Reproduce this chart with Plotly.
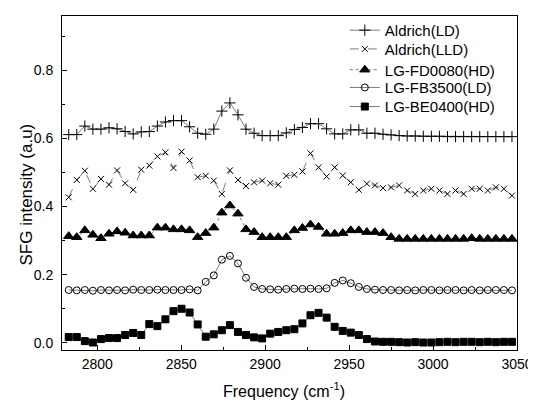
import plotly.graph_objects as go

freq = [2783.0, 2787.8, 2792.6, 2797.4, 2802.2, 2807.0, 2811.8, 2816.6, 2821.4, 2826.2,
        2831.0, 2835.8, 2840.6, 2845.4, 2850.2, 2855.0, 2859.8, 2864.6, 2869.4, 2874.2,
        2879.0, 2883.8, 2888.6, 2893.4, 2898.2, 2903.0, 2907.8, 2912.6, 2917.4, 2922.2,
        2927.0, 2931.8, 2936.6, 2941.4, 2946.2, 2951.0, 2955.8, 2960.6, 2965.4, 2970.2,
        2975.0, 2979.8, 2984.6, 2989.4, 2994.2, 2999.0, 3003.8, 3008.6, 3013.4, 3018.2,
        3023.0, 3027.8, 3032.6, 3037.4, 3042.2, 3047.0]

aldrich_ld = [0.611, 0.611, 0.636, 0.627, 0.627, 0.631, 0.628, 0.620, 0.613, 0.619,
              0.620, 0.636, 0.648, 0.652, 0.652, 0.634, 0.615, 0.612, 0.627, 0.680,
              0.704, 0.669, 0.627, 0.615, 0.608, 0.608, 0.608, 0.616, 0.626, 0.632,
              0.643, 0.643, 0.628, 0.613, 0.613, 0.625, 0.625, 0.615, 0.615, 0.612,
              0.610, 0.608, 0.607, 0.607, 0.606, 0.606, 0.606, 0.605, 0.605, 0.605,
              0.605, 0.605, 0.605, 0.605, 0.605, 0.605]

aldrich_lld = [0.427, 0.478, 0.505, 0.452, 0.481, 0.464, 0.506, 0.468, 0.449, 0.508,
               0.520, 0.547, 0.559, 0.513, 0.561, 0.535, 0.486, 0.490, 0.476, 0.437,
               0.506, 0.478, 0.460, 0.471, 0.476, 0.468, 0.464, 0.490, 0.493, 0.503,
               0.556, 0.515, 0.488, 0.515, 0.491, 0.471, 0.449, 0.467, 0.462, 0.454,
               0.456, 0.462, 0.447, 0.437, 0.447, 0.452, 0.447, 0.437, 0.447, 0.437,
               0.452, 0.452, 0.447, 0.456, 0.452, 0.432]

lg_fd0080 = [0.313, 0.310, 0.330, 0.317, 0.307, 0.320, 0.327, 0.323, 0.315, 0.315,
             0.315, 0.338, 0.338, 0.333, 0.333, 0.330, 0.310, 0.322, 0.338, 0.382,
             0.403, 0.379, 0.333, 0.325, 0.310, 0.310, 0.310, 0.310, 0.330, 0.337,
             0.347, 0.340, 0.320, 0.320, 0.322, 0.330, 0.330, 0.325, 0.325, 0.322,
             0.310, 0.305, 0.305, 0.305, 0.305, 0.305, 0.305, 0.305, 0.305, 0.305,
             0.307, 0.305, 0.305, 0.305, 0.305, 0.305]

lg_fb3500 = [0.155, 0.154, 0.155, 0.153, 0.155, 0.154, 0.155, 0.154, 0.156, 0.155,
             0.155, 0.156, 0.155, 0.155, 0.155, 0.157, 0.154, 0.179, 0.198, 0.244,
             0.255, 0.233, 0.191, 0.164, 0.158, 0.157, 0.156, 0.158, 0.159, 0.158,
             0.159, 0.158, 0.160, 0.176, 0.183, 0.175, 0.164, 0.158, 0.156, 0.155,
             0.155, 0.154, 0.155, 0.154, 0.155, 0.155, 0.154, 0.155, 0.155, 0.154,
             0.155, 0.154, 0.155, 0.155, 0.155, 0.154]

lg_be0400 = [0.017, 0.017, 0.005, 0.001, 0.011, 0.014, 0.014, 0.023, 0.029, 0.023,
             0.055, 0.049, 0.069, 0.093, 0.100, 0.089, 0.054, 0.018, 0.025, 0.037,
             0.052, 0.032, 0.023, 0.016, 0.013, 0.027, 0.032, 0.037, 0.040, 0.057,
             0.081, 0.088, 0.074, 0.047, 0.035, 0.030, 0.023, 0.011, 0.004, 0.003,
             0.003, 0.002, 0.001, 0.002, 0.001, 0.001, 0.002, 0.003, 0.002, 0.003,
             0.003, 0.002, 0.003, 0.002, 0.003, 0.003]

names = ["Aldrich(LD)", "Aldrich(LLD)", "LG-FD0080(HD)", "LG-FB3500(LD)", "LG-BE0400(HD)"]
series = [aldrich_ld, aldrich_lld, lg_fd0080, lg_fb3500, lg_be0400]
symbols = ["cross-thin", "x-thin", "triangle-up", "circle-open", "square"]
sizes = [8, 6, 9, 7, 7]
dashes = ["solid", "dash", "dot", "solid", "solid"]
legend_ids = ["legend", "legend2", "legend3", "legend4", "legend5"]
legend_rows_y = [0.954, 0.898, 0.836, 0.783, 0.726]

font_family = "Liberation Sans, Arial"

fig = go.Figure()
for name, ys, sym, sz, dsh, lid in zip(names, series, symbols, sizes, dashes, legend_ids):
    fig.add_trace(go.Scatter(
        x=freq, y=ys, name=name, mode="lines+markers", legend=lid,
        line=dict(color="#444444", width=0.7, dash=dsh),
        marker=dict(symbol=sym, size=sz, color="black",
                    line=dict(color="black", width=1)),
    ))

axis_common = dict(
    showline=True, linecolor="black", linewidth=1, mirror=True,
    ticks="inside", ticklen=5, tickcolor="black", showgrid=False, zeroline=False,
    automargin=False,
    tickfont=dict(family=font_family, size=14, color="black"),
)

fig.update_xaxes(range=[2779, 3050], dtick=50, tick0=2800, ticklabelstandoff=1,
                 minor=dict(ticks="inside", ticklen=3, dtick=25, tickcolor="black"),
                 **axis_common)
fig.update_yaxes(range=[-0.021, 0.959], dtick=0.2, tick0=0, tickformat=".1f",
                 ticklabelstandoff=5,
                 minor=dict(ticks="inside", ticklen=3, dtick=0.1, tickcolor="black"),
                 **axis_common)

fig.add_annotation(
    text="SFG intensity (a.u)", textangle=-90, showarrow=False,
    xref="paper", yref="paper", x=-0.0791, y=0.4657,
    xanchor="center", yanchor="middle",
    font=dict(family=font_family, size=17, color="black"),
)
fig.add_annotation(
    text="Frequency (cm<sup>-1</sup>)", showarrow=False,
    xref="paper", yref="paper", x=0.487, y=-0.119,
    xanchor="center", yanchor="middle",
    font=dict(family=font_family, size=16, color="black"),
)

legend_layout = {}
for lid, ly in zip(legend_ids, legend_rows_y):
    legend_layout[lid] = dict(
        x=0.6216, xanchor="left", y=ly, yanchor="middle",
        bgcolor="rgba(0,0,0,0)", borderwidth=0,
        font=dict(family=font_family, size=15, color="black"),
    )

# The page body adds an 8px offset; size the figure so the plot lands in place.
fig.update_layout(
    width=528, height=395,
    margin=dict(l=54, r=19, t=7, b=53),
    paper_bgcolor="white", plot_bgcolor="white",
    showlegend=True,
    **legend_layout,
)

fig.write_html("out.html")
